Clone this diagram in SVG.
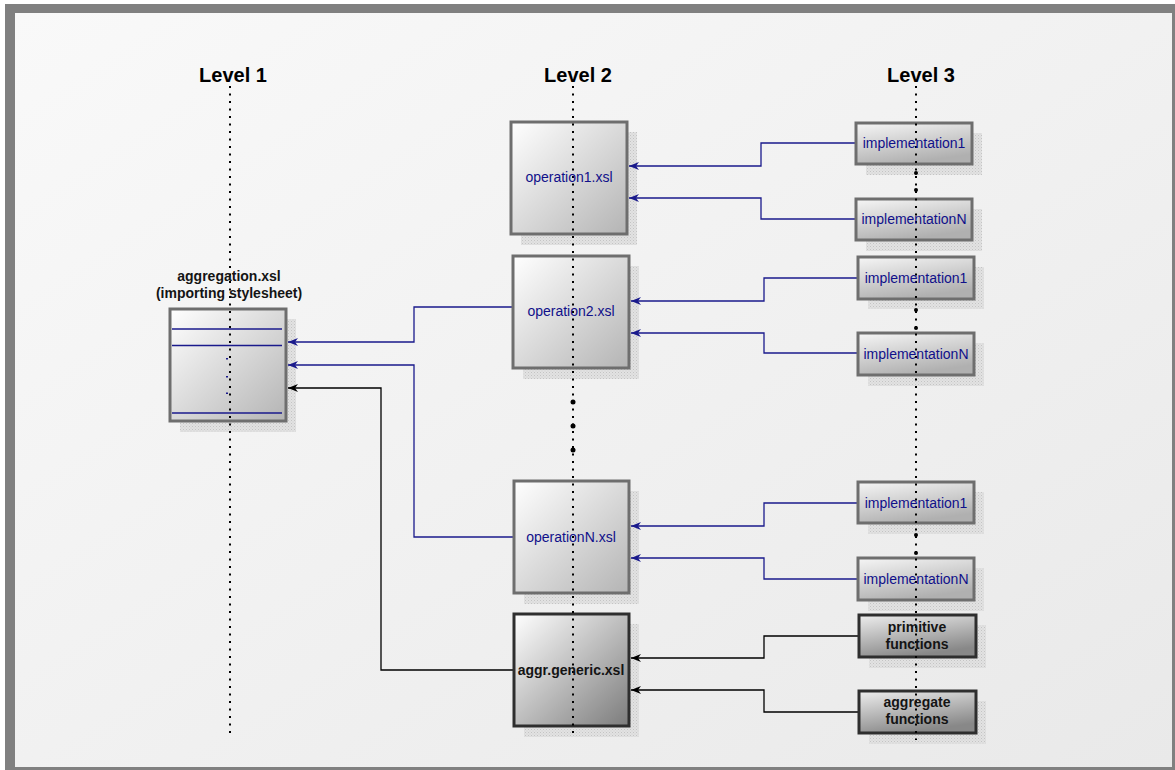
<svg xmlns="http://www.w3.org/2000/svg" width="1175" height="770" viewBox="0 0 1175 770">
<defs>
<linearGradient id="bg" x1="0" y1="0" x2="1" y2="1">
<stop offset="0" stop-color="#f9f9f9"/>
<stop offset="1" stop-color="#e9e9e9"/>
</linearGradient>
<linearGradient id="light" x1="0" y1="0" x2="1" y2="1">
<stop offset="0" stop-color="#ffffff"/>
<stop offset="1" stop-color="#b4b4b4"/>
</linearGradient>
<linearGradient id="small" x1="0" y1="0" x2="0.4" y2="1">
<stop offset="0" stop-color="#f6f6f6"/>
<stop offset="1" stop-color="#b0b0b0"/>
</linearGradient>
<linearGradient id="dark" x1="0" y1="0" x2="1" y2="1">
<stop offset="0" stop-color="#ffffff"/>
<stop offset="1" stop-color="#7c7c7c"/>
</linearGradient>
<linearGradient id="darksmall" x1="0" y1="0" x2="0.4" y2="1">
<stop offset="0" stop-color="#eeeeee"/>
<stop offset="1" stop-color="#888888"/>
</linearGradient>
<pattern id="shade" width="3" height="3" patternUnits="userSpaceOnUse">
<rect width="3" height="3" fill="#e2e2e2"/>
<rect width="1" height="1" fill="#c4c4c4"/>
<rect x="1.5" y="1.5" width="1" height="1" fill="#cfcfcf"/>
</pattern>
<marker id="ab" viewBox="0 0 10 8" refX="10" refY="4" markerWidth="10" markerHeight="8" markerUnits="userSpaceOnUse" orient="auto">
<path d="M0,0 L10,4 L0,8 L3,4 z" fill="#1a1a8c"/>
</marker>
<marker id="ak" viewBox="0 0 10 8" refX="10" refY="4" markerWidth="10" markerHeight="8" markerUnits="userSpaceOnUse" orient="auto">
<path d="M0,0 L10,4 L0,8 L3,4 z" fill="#000000"/>
</marker>
</defs>
<style>
.shadow{fill:url(#shade);}
.big{fill:url(#light);stroke:#6e6e6e;stroke-width:3;}
.sm{fill:url(#small);stroke:#6e6e6e;stroke-width:3;}
.bigd{fill:url(#dark);stroke:#2e2e2e;stroke-width:3;}
.smd{fill:url(#darksmall);stroke:#2e2e2e;stroke-width:3;}
.lbl{font-family:"Liberation Sans",Arial,sans-serif;font-size:14px;fill:#10108a;text-anchor:middle;}
.blbl{font-family:"Liberation Sans",Arial,sans-serif;font-size:14px;font-weight:bold;fill:#141414;text-anchor:middle;}
.lvl{font-family:"Liberation Sans",Arial,sans-serif;font-size:20px;font-weight:bold;fill:#000;text-anchor:middle;}
.dot{stroke:#000;stroke-width:2;stroke-dasharray:2 5.5;fill:none;}
.cb{fill:none;stroke:#1a1a8c;stroke-width:1.3;marker-end:url(#ab);}
.ck{fill:none;stroke:#000;stroke-width:1.3;marker-end:url(#ak);}
.inner{stroke:#1a1a8c;stroke-width:1.5;}
</style>
<rect x="0" y="0" width="1175" height="770" fill="#ffffff"/>
<rect x="5" y="4" width="1170" height="766" fill="#808080"/>
<rect x="15" y="13" width="1157" height="754" fill="url(#bg)"/>

<g id="shadows">
<rect class="shadow" x="180" y="319" width="116" height="113"/>
<rect class="shadow" x="521" y="132" width="116" height="113"/>
<rect class="shadow" x="523" y="266" width="116" height="113"/>
<rect class="shadow" x="524" y="491" width="115" height="113"/>
<rect class="shadow" x="524" y="624" width="115" height="113"/>
<rect class="shadow" x="866" y="133" width="116" height="42"/>
<rect class="shadow" x="866" y="209" width="116" height="42"/>
<rect class="shadow" x="868" y="267" width="116" height="42"/>
<rect class="shadow" x="868" y="343" width="116" height="43"/>
<rect class="shadow" x="868" y="492" width="116" height="42"/>
<rect class="shadow" x="868" y="568" width="116" height="43"/>
<rect class="shadow" x="869" y="625" width="117" height="43"/>
<rect class="shadow" x="869" y="701" width="117" height="43"/>
</g>

<g id="connectors">
<path class="cb" d="M856,143 H761 V166 H629"/>
<path class="cb" d="M856,219 H761 V198 H629"/>
<path class="cb" d="M858,278 H764 V301 H631"/>
<path class="cb" d="M858,353 H764 V333 H631"/>
<path class="cb" d="M858,503 H764 V526 H631"/>
<path class="cb" d="M858,579 H764 V558 H631"/>
<path class="ck" d="M859,636 H764 V658 H631"/>
<path class="ck" d="M859,712 H764 V690 H631"/>
<path class="cb" d="M513,307 H414 V342 H288"/>
<path class="cb" d="M514,537 H414 V365 H288"/>
<path class="ck" d="M514,670 H381 V388 H288"/>
</g>

<g id="aggregation">
<rect class="big" x="170" y="309" width="116" height="112"/>
<line class="inner" x1="172" y1="329" x2="282" y2="329"/>
<line class="inner" x1="172" y1="345.5" x2="282" y2="345.5"/>
<line class="inner" x1="172" y1="413" x2="282" y2="413"/>
<rect x="226" y="358" width="2" height="1.5" fill="#1a1a8c"/>
<rect x="226" y="376" width="2" height="1.5" fill="#1a1a8c"/>
<rect x="226" y="392.5" width="2" height="1.5" fill="#1a1a8c"/>
</g>
<g id="operation1"><rect class="big" x="511" y="122" width="116" height="112"/></g>
<g id="operation2"><rect class="big" x="513" y="256" width="116" height="112"/></g>
<g id="operationN"><rect class="big" x="514" y="481" width="115" height="112"/></g>
<g id="aggr-generic"><rect class="bigd" x="514" y="614" width="115" height="112"/></g>
<g id="impl1-a"><rect class="sm" x="856" y="123" width="116" height="41"/></g>
<g id="implN-a"><rect class="sm" x="856" y="199" width="116" height="41"/></g>
<g id="impl1-b"><rect class="sm" x="858" y="257" width="116" height="42"/></g>
<g id="implN-b"><rect class="sm" x="858" y="333" width="116" height="42"/></g>
<g id="impl1-c"><rect class="sm" x="858" y="482" width="116" height="41"/></g>
<g id="implN-c"><rect class="sm" x="858" y="558" width="116" height="42"/></g>
<g id="primitive"><rect class="smd" x="859" y="615" width="117" height="42"/></g>
<g id="aggregate"><rect class="smd" x="859" y="691" width="117" height="42"/></g>

<g id="levels">
<line class="dot" x1="230" y1="86" x2="230" y2="736"/>
<line class="dot" x1="573" y1="86" x2="573" y2="737"/>
<line class="dot" x1="916" y1="86" x2="916" y2="740"/>
<circle cx="573" cy="402" r="2.5"/>
<circle cx="573" cy="426" r="2.5"/>
<circle cx="573" cy="450" r="2.5"/>
<circle cx="916" cy="173" r="2"/>
<circle cx="916" cy="190" r="2"/>
<circle cx="916" cy="310" r="2"/>
<circle cx="916" cy="328" r="2"/>
<circle cx="916" cy="535" r="2"/>
<circle cx="916" cy="553" r="2"/>
<text class="lvl" x="233" y="82">Level 1</text>
<text class="lvl" x="578" y="82">Level 2</text>
<text class="lvl" x="921" y="82">Level 3</text>
</g>

<g id="labels">
<text class="blbl" x="229" y="281" font-size="13.5">aggregation.xsl</text>
<text class="blbl" x="229" y="298" font-size="13.5">(importing stylesheet)</text>
<text class="lbl" x="569" y="182">operation1.xsl</text>
<text class="lbl" x="571" y="316">operation2.xsl</text>
<text class="lbl" x="571" y="542">operationN.xsl</text>
<text class="blbl" x="571" y="675">aggr.generic.xsl</text>
<text class="lbl" x="914" y="148">implementation1</text>
<text class="lbl" x="914" y="224">implementationN</text>
<text class="lbl" x="916" y="283">implementation1</text>
<text class="lbl" x="916" y="359">implementationN</text>
<text class="lbl" x="916" y="508">implementation1</text>
<text class="lbl" x="916" y="584">implementationN</text>
<text class="blbl" x="917" y="632">primitive</text>
<text class="blbl" x="917" y="649">functions</text>
<text class="blbl" x="917" y="707">aggregate</text>
<text class="blbl" x="917" y="724">functions</text>
</g>
</svg>
